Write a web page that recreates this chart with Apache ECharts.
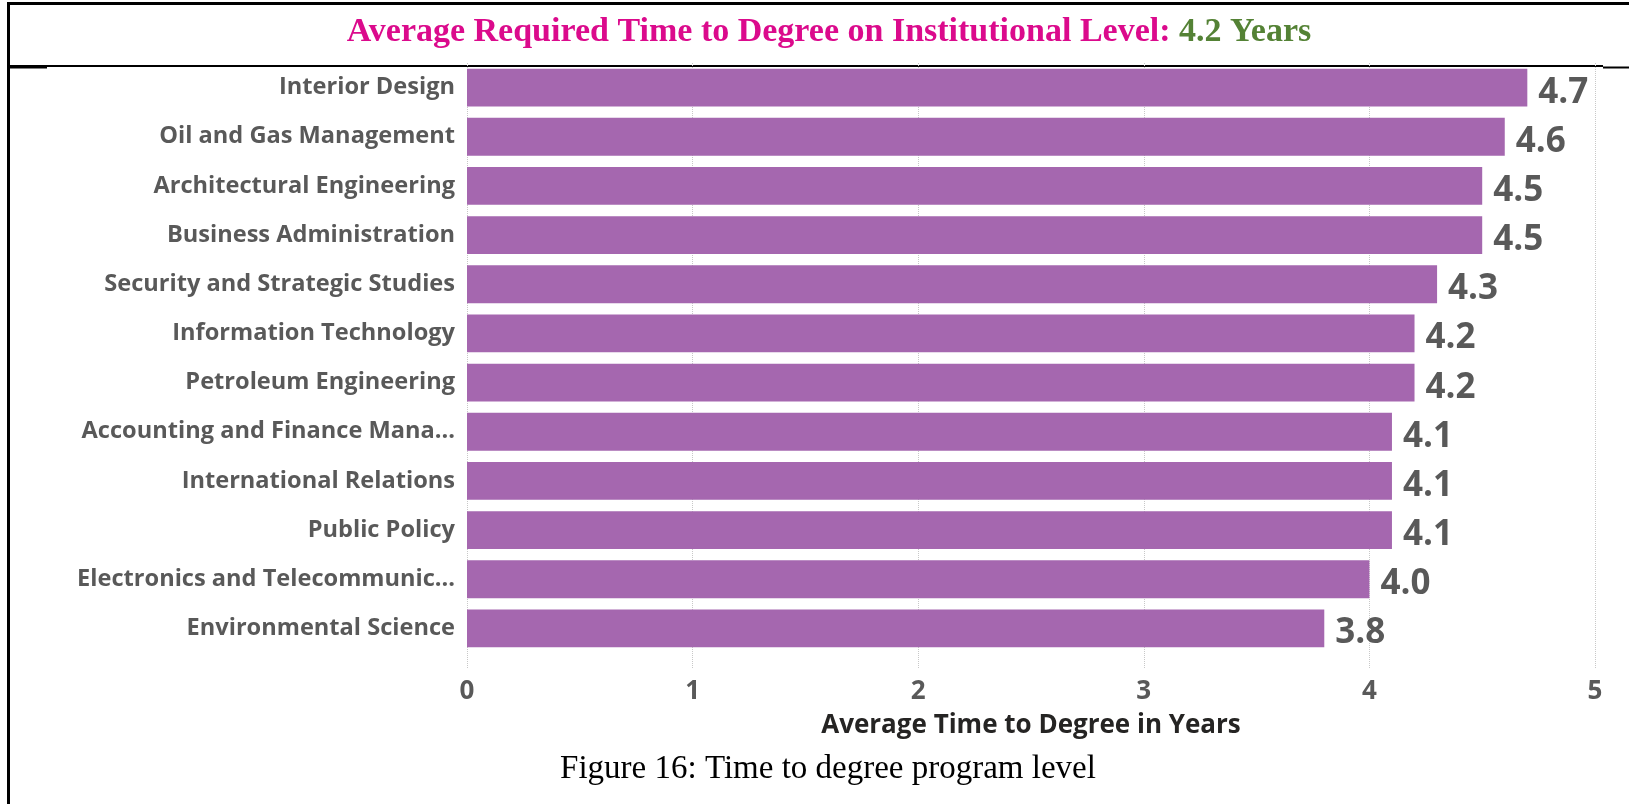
<!DOCTYPE html>
<html>
<head>
<meta charset="utf-8">
<script src="https://cdn.jsdelivr.net/npm/echarts@6/dist/echarts.min.js"></script>
<style>
  html, body { margin: 0; padding: 0; background: #fff; }
  #chart { width: 1629px; height: 804px; }
</style>
</head>
<body>
<div id="chart"></div>
<script>
// programmes, top to bottom
var programs = [
    'Interior Design',
    'Oil and Gas Management',
    'Architectural Engineering',
    'Business Administration',
    'Security and Strategic Studies',
    'Information Technology',
    'Petroleum Engineering',
    'Accounting and Finance Mana...',
    'International Relations',
    'Public Policy',
    'Electronics and Telecommunic...',
    'Environmental Science'
];

// average years to degree
var years = [4.7, 4.6, 4.5, 4.5, 4.3, 4.2, 4.2, 4.1, 4.1, 4.1, 4.0, 3.8];

var xTicks = [0, 1, 2, 3, 4, 5];

var grey = '#595959';
var myChart = echarts.init(document.getElementById('chart'));

var option = {
    animation: false,
    title: [{
        // heading of the figure
        text: '{a|Average Required Time to Degree on Institutional Level: }{b|4.2 Years}',
        left: 829,
        top: 15,
        textAlign: 'center',
        padding: 0,
        textStyle: {
            rich: {
                a: { fontFamily: 'Liberation Serif', fontWeight: 'bold', fontSize: 34, color: '#DB0A8C' },
                b: { fontFamily: 'Liberation Serif', fontWeight: 'bold', fontSize: 34, color: '#548235' }
            }
        }
    }, {
        // caption under the chart
        text: 'Figure 16: Time to degree program level',
        left: 828,
        top: 753,
        textAlign: 'center',
        padding: 0,
        textStyle: { fontFamily: 'Liberation Serif', fontWeight: 'normal', fontSize: 33, color: '#000' }
    }],
    grid: {
        left: 467,
        right: 34,
        top: 63,
        height: 590
    },
    xAxis: {
        type: 'value',
        min: 0,
        max: 5,
        interval: 1,
        name: 'Average Time to Degree in Years',
        nameLocation: 'middle',
        nameGap: 60,
        nameTextStyle: { fontFamily: 'Open Sans', fontWeight: 'bold', fontSize: 26, color: '#252423' },
        axisLine: { show: false },
        axisTick: { show: true, length: 16, lineStyle: { color: '#c8c8c8', type: 'dotted' } },
        axisLabel: {
            margin: 26,
            fontFamily: 'Open Sans', fontWeight: 'bold', fontSize: 26, color: grey,
            formatter: function (v) { return xTicks.indexOf(v) >= 0 ? String(v) : ''; }
        },
        splitLine: { show: true, lineStyle: { color: '#c8c8c8', type: 'dotted', width: 1 } }
    },
    yAxis: {
        type: 'category',
        data: programs,
        inverse: true,
        axisLine: { show: false },
        axisTick: { show: false },
        axisLabel: {
            margin: 12,
            padding: [4, 0, 0, 0],
            fontFamily: 'Open Sans', fontWeight: 'bold', fontSize: 23.6, color: grey
        }
    },
    series: [{
        type: 'bar',
        data: years,
        barCategoryGap: '23%',
        itemStyle: { color: '#A567AF' },
        label: {
            show: true,
            position: 'right',
            distance: 11,
            offset: [0, 5],
            fontFamily: 'Open Sans', fontWeight: 'bold', fontSize: 35, color: grey,
            formatter: function (p) { return p.value.toFixed(1); }
        }
    }],
    graphic: [
        // page borders around the figure
        { type: 'line', shape: { x1: 8, y1: 3.5, x2: 1629, y2: 3.5 }, style: { stroke: '#000', lineWidth: 3 } },
        { type: 'line', shape: { x1: 8.5, y1: 2, x2: 8.5, y2: 804 }, style: { stroke: '#000', lineWidth: 3 } },
        { type: 'line', shape: { x1: 8, y1: 66, x2: 1603, y2: 66 }, style: { stroke: '#000', lineWidth: 2 } },
        { type: 'line', shape: { x1: 8, y1: 67.5, x2: 47, y2: 67.5 }, style: { stroke: '#000', lineWidth: 2 } },
        { type: 'line', shape: { x1: 1603, y1: 67.5, x2: 1629, y2: 67.5 }, style: { stroke: '#000', lineWidth: 2 } }
    ]
};

myChart.setOption(option);
</script>
</body>
</html>
